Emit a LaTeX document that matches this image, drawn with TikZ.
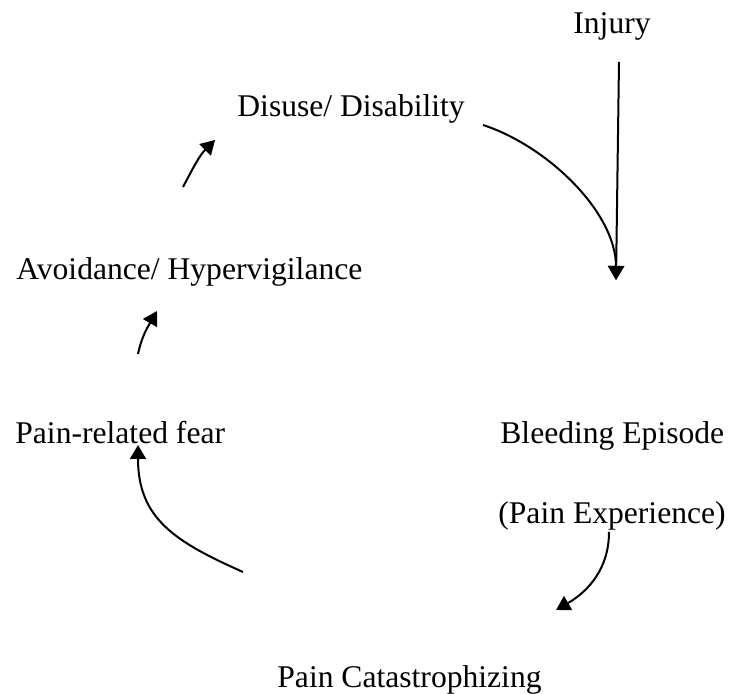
\documentclass[tikz,border=0pt]{standalone}
\usepackage{fontspec}
\setmainfont{Liberation Serif}
\usetikzlibrary{arrows.meta}
\begin{document}
\begin{tikzpicture}[x=0.5pt,y=-0.5pt,
  lbl/.style={inner sep=0pt,anchor=base west,font=\fontsize{15.8pt}{19pt}\selectfont},
  arr/.style={line width=1pt,-{Triangle[length=7pt,width=8pt]}}]
\useasboundingbox (0,0) rectangle (740,694);
\node[lbl] (inj) at (573,34) {Injury};
\node[lbl] (dis) at (237,117) {Disuse/ Disability};
\node[lbl] (avo) at (16,280) {Avoidance/ Hypervigilance};
\node[lbl] (fear) at (15,444) {Pain-related fear};
\node[lbl] (blee) at (500,444) {Bleeding Episode};
\node[lbl] (pexp) at (498,524) {(Pain Experience)};
\node[lbl] (cat) at (277,688) {Pain Catastrophizing};
% arrow end points
\coordinate (injS) at (619,62);
\coordinate (bleT) at (616,280);
\coordinate (disS) at (483,125);
\coordinate (pexS) at (609,532);
\coordinate (catT) at (556,610);
\coordinate (catS) at (243,572);
\coordinate (fearT) at (138,445);
\coordinate (fearS) at (138,354);
\coordinate (avoT) at (157,311);
\coordinate (avoS) at (183,187);
\coordinate (disT) at (215,140);
\draw[arr] (injS) -- (bleT);
\draw[arr] (disS) to[out=-18,in=90,looseness=0.85] (bleT);
\draw[arr] (pexS) to[out=-90,in=30] (catT);
\draw[arr] (catS) to[out=156,in=-90,looseness=1.15] (fearT);
\draw[arr] (fearS) to[out=78,in=-120] (avoT);
\draw[arr] (avoS) to[out=62,in=-135] (disT);
\end{tikzpicture}
\end{document}
